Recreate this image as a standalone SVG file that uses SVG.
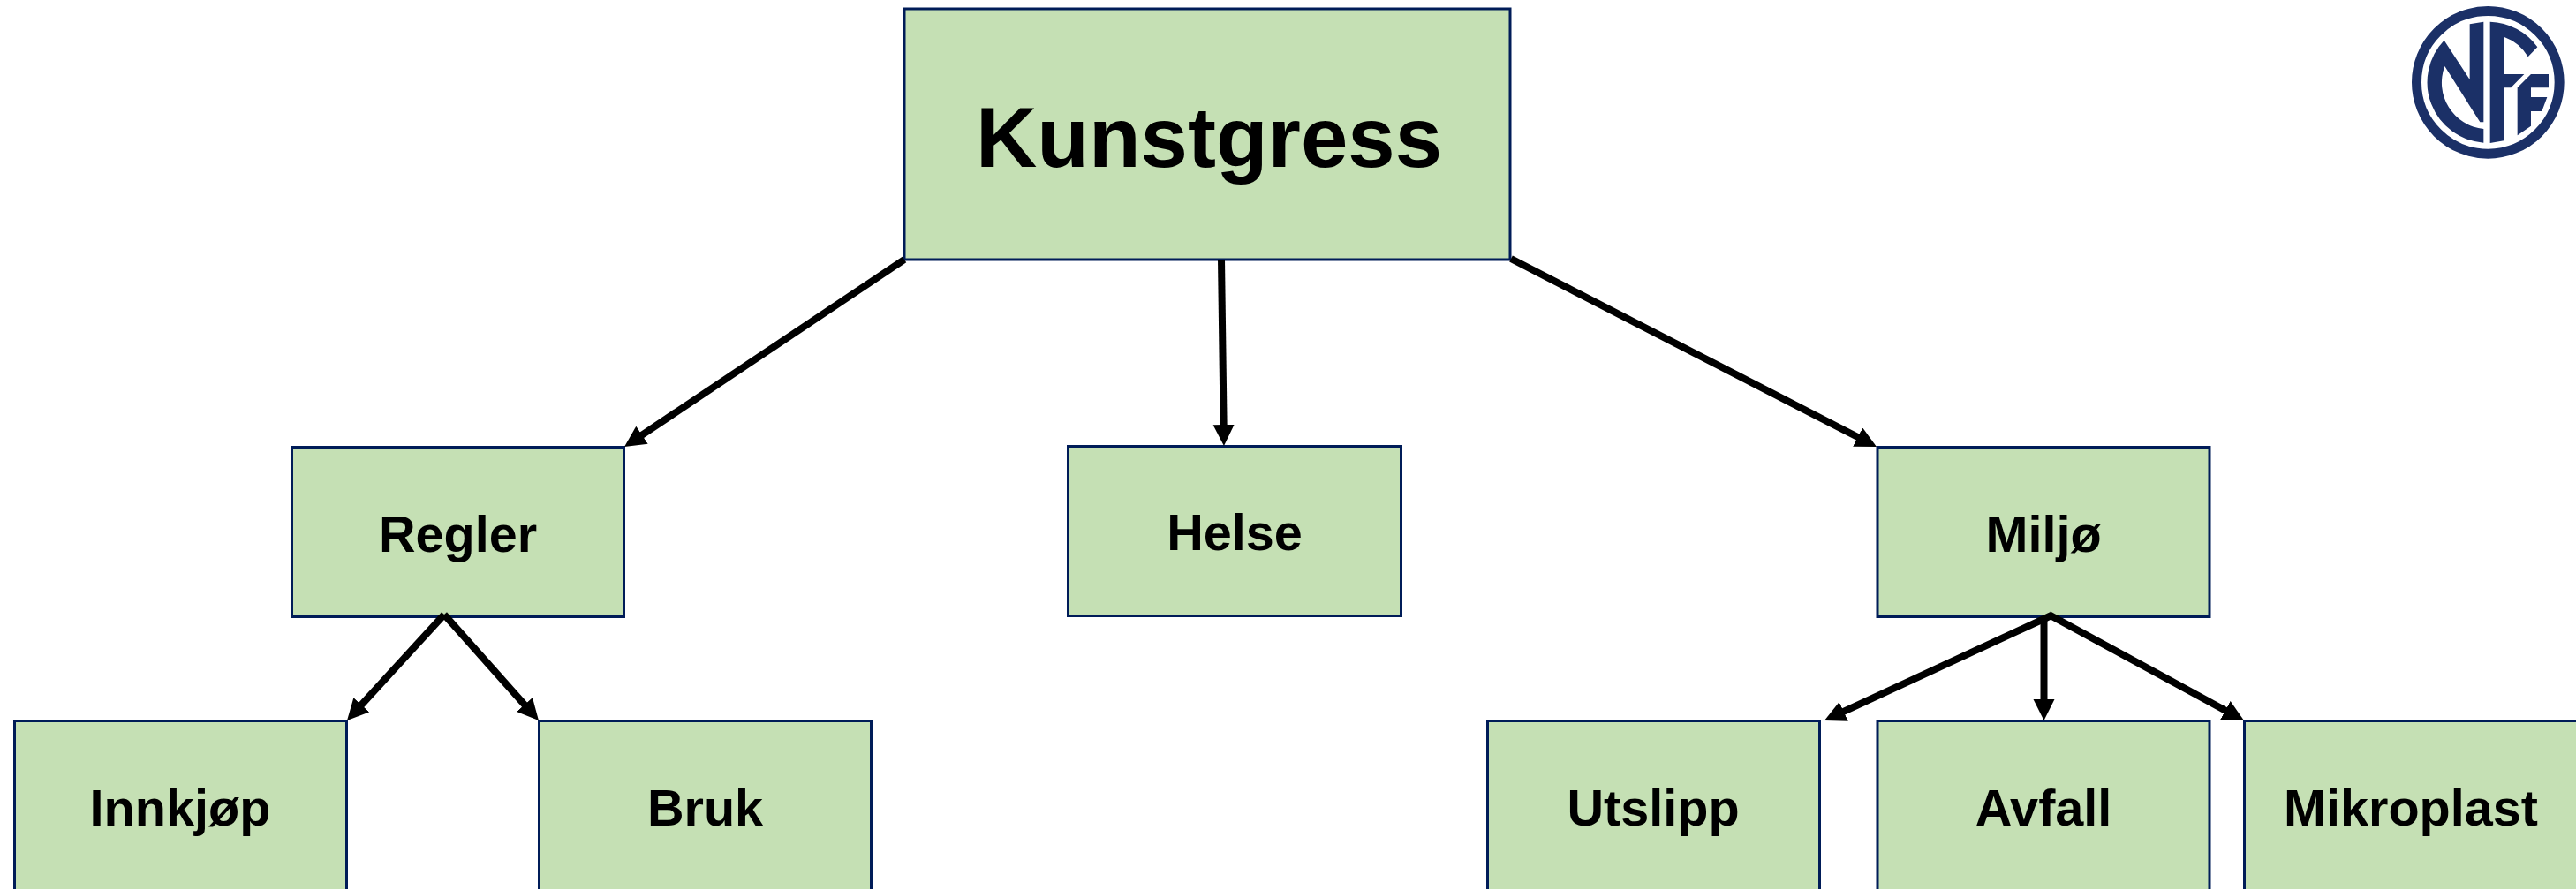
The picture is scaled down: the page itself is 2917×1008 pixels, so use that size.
<svg xmlns="http://www.w3.org/2000/svg" width="2917" height="1008" viewBox="0 0 2917 1008">
<style>
.box{fill:#c5e0b4;stroke:#001c58;stroke-width:3}
.t{font-family:"Liberation Sans",Arial,sans-serif;font-weight:700;fill:#000;text-anchor:middle}
.s{font-size:57.600px}
.c line{stroke:#000;stroke-width:8;marker-end:url(#a)}
</style>
<defs><marker id="a" markerUnits="userSpaceOnUse" markerWidth="26" markerHeight="26" refX="6" refY="12" orient="auto"><path d="M0 0L24 12L0 24z" fill="#000"/></marker></defs>
<rect width="2917" height="1008" fill="#fff"/>
<g id="n-kunstgress"><rect class="box" x="1024" y="10" width="686" height="284"/><text class="t" x="1369" y="189" font-size="96">Kunstgress</text></g>
<g id="n-regler"><rect class="box" x="330.500" y="506.500" width="376" height="192"/><text class="t s" x="518.500" y="625">Regler</text></g>
<g id="n-helse"><rect class="box" x="1209.500" y="505.500" width="377" height="192"/><text class="t s" x="1398" y="623">Helse</text></g>
<g id="n-miljo"><rect class="box" x="2126" y="506.500" width="376" height="192"/><text class="t s" x="2314" y="625">Miljø</text></g>
<g id="n-innkjop"><path class="box" d="M16.500 1007V816.500H392.500V1007"/><text class="t s" x="204" y="935">Innkjøp</text></g>
<g id="n-bruk"><path class="box" d="M610.500 1007V816.500H986.500V1007"/><text class="t s" x="798.500" y="935">Bruk</text></g>
<g id="n-utslipp"><path class="box" d="M1684.500 1007V816.500H2060.500V1007"/><text class="t s" x="1872" y="935">Utslipp</text></g>
<g id="n-avfall"><path class="box" d="M2126 1007V816.500H2502V1007"/><text class="t s" x="2314" y="935">Avfall</text></g>
<g id="n-mikroplast"><path class="box" d="M2541.500 1007V816.500H2920V1007"/><text class="t s" x="2730" y="935">Mikroplast</text></g>
<g id="connectors" class="c">
<line x1="1024" y1="294" x2="722" y2="496"/>
<line x1="1383" y1="294" x2="1385.700" y2="487"/>
<line x1="1711" y1="293" x2="2109" y2="497.800"/>
<line x1="503" y1="696" x2="405.200" y2="802.700"/>
<line x1="503" y1="696" x2="598" y2="802.600"/>
<line x1="2323" y1="697" x2="2082.300" y2="808.400"/>
<line x1="2314.500" y1="699" x2="2314.500" y2="798"/>
<line x1="2320" y1="696" x2="2525.200" y2="807.400"/>
</g>
<g id="logo" transform="translate(2700 0) scale(.33333)" fill="#1b3067">
<circle cx="352" cy="280" r="242.500" fill="#fff" stroke="#1b3067" stroke-width="33"/>
<path d="M203 137L290 270V82L337 74V415H325L205 225A158 158 0 0 0 337 438V485A206 206 0 0 1 203 137Z"/>
<path d="M359 74A206 206 0 0 1 520 160L488 193A158 158 0 0 0 406 125V252H475L430 298H406V478L359 486Z"/>
<path d="M498 252H558V298H498V330H553L535 378H498V428L452 460V298Z"/>
</g>
</svg>
